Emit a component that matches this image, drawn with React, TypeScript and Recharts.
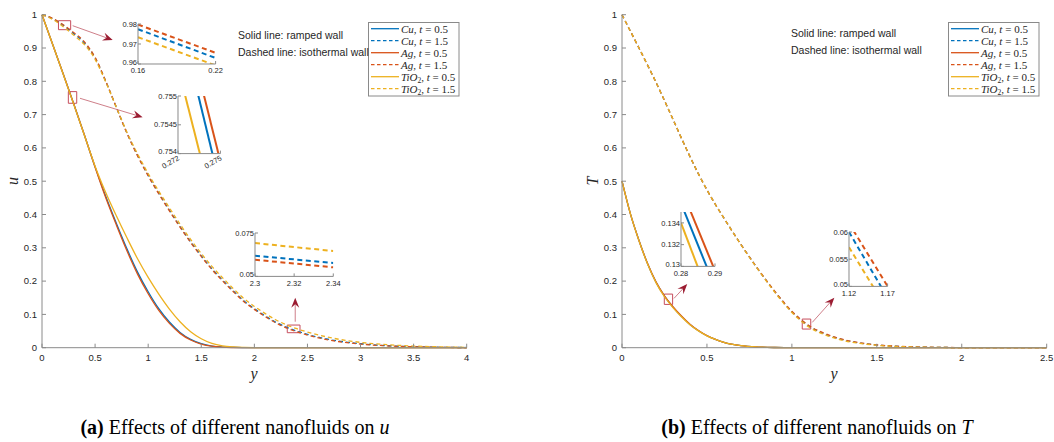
import React from "react";
import { LineChart, Line, XAxis, YAxis, CartesianGrid, ReferenceArea, ReferenceLine } from "recharts";

const CU = "#0072BD";
const AG = "#D95319";
const TIO2 = "#EDB120";
const AXIS_GRAY = "#8a8a8a";
const TEXT = "#262626";
const SANS = "'Liberation Sans', Arial, Helvetica, sans-serif";
const SERIF = "'Liberation Serif', 'Times New Roman', serif";
const BOX_RED = "#c64d5c";

// ---- velocity u(y): t = 0.5 ramped wall (solid), t = 1.5 isothermal wall (dashed)
const uY = [0, 0.1, 0.2, 0.3, 0.4, 0.5, 0.6, 0.7, 0.8, 0.9, 1.0, 1.1, 1.2, 1.3, 1.4, 1.5, 1.6, 1.7, 1.8, 1.9, 2.0, 2.1, 2.2, 2.3, 2.4, 2.5, 2.75, 3.0, 3.25, 3.5, 3.75, 4.0];
const uCuRamped = [1, 0.911, 0.822, 0.731, 0.638, 0.543, 0.455, 0.374, 0.297, 0.227, 0.168, 0.117, 0.077, 0.046, 0.025, 0.012, 0.005, 0.002, 0.0007, 0.0002, 0, 0, 0, 0, 0, 0, 0, 0, 0, 0, 0, 0];
const uAgRamped = [1, 0.911, 0.822, 0.731, 0.638, 0.542, 0.451, 0.369, 0.291, 0.221, 0.162, 0.112, 0.073, 0.043, 0.023, 0.011, 0.0045, 0.0017, 0.0006, 0.0002, 0, 0, 0, 0, 0, 0, 0, 0, 0, 0, 0, 0];
const uTiO2Ramped = [1, 0.911, 0.821, 0.73, 0.637, 0.545, 0.466, 0.396, 0.33, 0.267, 0.211, 0.161, 0.116, 0.078, 0.048, 0.027, 0.013, 0.0055, 0.0022, 0.0008, 0.0002, 0, 0, 0, 0, 0, 0, 0, 0, 0, 0, 0];
const uCuIso = [1, 0.988, 0.968, 0.943, 0.915, 0.87, 0.8, 0.722, 0.645, 0.578, 0.518, 0.464, 0.413, 0.364, 0.318, 0.276, 0.237, 0.203, 0.171, 0.141, 0.117, 0.096, 0.077, 0.062, 0.05, 0.04, 0.022, 0.012, 0.006, 0.003, 0.0012, 0.0005];
const uAgIso = [1, 0.989, 0.97, 0.946, 0.918, 0.872, 0.801, 0.722, 0.644, 0.576, 0.516, 0.462, 0.411, 0.362, 0.316, 0.274, 0.235, 0.201, 0.169, 0.139, 0.115, 0.094, 0.075, 0.0597, 0.048, 0.038, 0.0205, 0.011, 0.0055, 0.0027, 0.0011, 0.0004];
const uTiO2Iso = [1, 0.986, 0.964, 0.938, 0.91, 0.866, 0.798, 0.722, 0.647, 0.582, 0.523, 0.47, 0.42, 0.371, 0.325, 0.283, 0.244, 0.21, 0.178, 0.148, 0.124, 0.103, 0.084, 0.069, 0.057, 0.047, 0.028, 0.016, 0.009, 0.005, 0.0025, 0.001];
const uXTicks = [0, 0.5, 1, 1.5, 2, 2.5, 3, 3.5, 4];

// ---- temperature T(y)
const tY = [0, 0.05, 0.1, 0.15, 0.2, 0.25, 0.3, 0.35, 0.4, 0.45, 0.5, 0.55, 0.6, 0.7, 0.8, 0.9, 1.0, 1.1, 1.2, 1.3, 1.4, 1.5, 1.6, 1.7, 1.8, 1.9, 2.0, 2.25, 2.5];
const tCuRamped = [0.5, 0.401, 0.322, 0.253, 0.197, 0.155, 0.122, 0.094, 0.07, 0.051, 0.036, 0.025, 0.016, 0.006, 0.002, 0.0006, 0.0002, 0, 0, 0, 0, 0, 0, 0, 0, 0, 0, 0, 0];
const tAgRamped = [0.5, 0.401, 0.322, 0.2535, 0.198, 0.156, 0.123, 0.095, 0.0705, 0.0515, 0.0363, 0.0252, 0.0162, 0.0061, 0.002, 0.0006, 0.0002, 0, 0, 0, 0, 0, 0, 0, 0, 0, 0, 0, 0];
const tTiO2Ramped = [0.5, 0.401, 0.321, 0.252, 0.1955, 0.153, 0.1205, 0.093, 0.069, 0.0505, 0.0357, 0.0248, 0.0159, 0.006, 0.002, 0.0006, 0.0002, 0, 0, 0, 0, 0, 0, 0, 0, 0, 0, 0, 0];
const tCuIso = [1, 0.95, 0.9, 0.849, 0.797, 0.742, 0.686, 0.629, 0.574, 0.522, 0.474, 0.43, 0.389, 0.31, 0.236, 0.168, 0.108, 0.065, 0.04, 0.024, 0.014, 0.008, 0.0045, 0.0025, 0.0013, 0.0007, 0.0003, 0.0001, 0];
const tAgIso = [1, 0.95, 0.9, 0.849, 0.797, 0.742, 0.686, 0.629, 0.574, 0.522, 0.474, 0.43, 0.389, 0.31, 0.2365, 0.169, 0.1095, 0.0667, 0.0415, 0.025, 0.0147, 0.0085, 0.0048, 0.0027, 0.0014, 0.0008, 0.0003, 0.0001, 0];
const tTiO2Iso = [1, 0.95, 0.9, 0.849, 0.797, 0.742, 0.686, 0.629, 0.574, 0.522, 0.474, 0.43, 0.389, 0.3095, 0.235, 0.166, 0.1055, 0.0622, 0.0375, 0.022, 0.0128, 0.0073, 0.0041, 0.0023, 0.0012, 0.0006, 0.0003, 0.0001, 0];
const tXTicks = [0, 0.5, 1, 1.5, 2, 2.5];

const yTicks = [0, 0.1, 0.2, 0.3, 0.4, 0.5, 0.6, 0.7, 0.8, 0.9, 1];

// ---- zoomed windows (two-point segments)
const zoomUIsoX = [0.16, 0.22];
const zoomUIsoCu = [0.9774, 0.963];
const zoomUIsoAg = [0.9797, 0.9656];
const zoomUIsoTi = [0.9734, 0.9593];

const zoomURampX = [0.272, 0.275];
const zoomURampCu = [0.75646, 0.75343];
const zoomURampAg = [0.75683, 0.75386];
const zoomURampTi = [0.7555, 0.75259];

const zoomUTailX = [2.3, 2.34];
const zoomUTailCu = [0.0619, 0.0577];
const zoomUTailAg = [0.0596, 0.0552];
const zoomUTailTi = [0.0692, 0.0646];

const zoomTRampX = [0.28, 0.29];
const zoomTRampCu = [0.1358, 0.1281];
const zoomTRampAg = [0.1372, 0.1296];
const zoomTRampTi = [0.134, 0.1258];

const zoomTIsoX = [1.12, 1.17];
const zoomTIsoCu = [0.06, 0.0479];
const zoomTIsoAg = [0.0616, 0.05];
const zoomTIsoTi = [0.0572, 0.0456];

// markers on the main axes that point at the zoomed windows
const uBoxes = [
  { x1: 0.155, x2: 0.27, y1: 0.955, y2: 0.982 },
  { x1: 0.248, x2: 0.327, y1: 0.734, y2: 0.769 },
  { x1: 2.31, x2: 2.43, y1: 0.045, y2: 0.068 },
];
const uArrows = [
  [{ x: 0.289, y: 0.967 }, { x: 0.666, y: 0.924 }],
  [{ x: 0.358, y: 0.749 }, { x: 0.948, y: 0.692 }],
  [{ x: 2.385, y: 0.078 }, { x: 2.385, y: 0.15 }],
];
const tBoxes = [
  { x1: 0.249, x2: 0.298, y1: 0.13, y2: 0.161 },
  { x1: 1.061, x2: 1.111, y1: 0.056, y2: 0.086 },
];
const tArrows = [
  [{ x: 0.306, y: 0.148 }, { x: 0.384, y: 0.191 }],
  [{ x: 1.12, y: 0.076 }, { x: 1.25, y: 0.15 }],
];

const series = [
  { key: "cuR", fluid: "Cu", t: "0.5", color: CU, dashed: false },
  { key: "cuI", fluid: "Cu", t: "1.5", color: CU, dashed: true },
  { key: "agR", fluid: "Ag", t: "0.5", color: AG, dashed: false },
  { key: "agI", fluid: "Ag", t: "1.5", color: AG, dashed: true },
  { key: "tiR", fluid: "TiO2", t: "0.5", color: TIO2, dashed: false },
  { key: "tiI", fluid: "TiO2", t: "1.5", color: TIO2, dashed: true },
];

const uRows = uY.map((y, i) => ({
  y, cuR: uCuRamped[i], cuI: uCuIso[i], agR: uAgRamped[i], agI: uAgIso[i], tiR: uTiO2Ramped[i], tiI: uTiO2Iso[i],
}));
const tRows = tY.map((y, i) => ({
  y, cuR: tCuRamped[i], cuI: tCuIso[i], agR: tAgRamped[i], agI: tAgIso[i], tiR: tTiO2Ramped[i], tiI: tTiO2Iso[i],
}));

const hiddenTick = () => <g />;

const ArrowShape = (props: any) => {
  const { x1, y1, x2, y2 } = props;
  const a = Math.atan2(y2 - y1, x2 - x1);
  const c = Math.cos(a);
  const s = Math.sin(a);
  const len = 10, half = 4, notch = 6.5;
  const bx = x2 - len * c, by = y2 - len * s;
  const nx = x2 - notch * c, ny = y2 - notch * s;
  const pts = `${x2},${y2} ${bx - half * s},${by + half * c} ${nx},${ny} ${bx + half * s},${by - half * c}`;
  return (
    <g>
      <line x1={x1} y1={y1} x2={nx} y2={ny} stroke="#c8707c" strokeWidth={0.9} />
      <polygon points={pts} fill="#9b1c31" />
    </g>
  );
};

const SlantTick = (props: any) => {
  const { x, y, payload } = props;
  const ax = x + 2, ay = y + 2;
  return (
    <text x={ax} y={ay} transform={`rotate(-30 ${ax} ${ay})`} textAnchor="end" fontSize={7.5} fontFamily={SANS} fill={TEXT}>
      {payload.value}
    </text>
  );
};

// inset y labels; the lowest one sits a little higher so it clears the x label below it
const InsetYTick = (props: any) => {
  const { x, y, payload, index } = props;
  return (
    <text x={x} y={y - (index === 0 ? 2 : 0)} dy="0.35em" textAnchor="end" fontSize={7.5} fontFamily={SANS} fill={TEXT}>
      {payload.value}
    </text>
  );
};

function FluidLabel({ fluid, t }: { fluid: string; t: string }) {
  const base = fluid === "TiO2" ? "TiO" : fluid;
  return (
    <>
      <tspan fontStyle="italic">{base}</tspan>
      {fluid === "TiO2" && <tspan fontSize={7.5} dy={2.5}>2</tspan>}
      <tspan dy={fluid === "TiO2" ? -2.5 : 0}>, </tspan>
      <tspan fontStyle="italic">t</tspan>
      <tspan> = {t}</tspan>
    </>
  );
}

function SeriesKey({ left, top }: { left: number; top: number }) {
  return (
    <svg width={92} height={76} style={{ position: "absolute", left, top }}>
      <rect x={0.5} y={0.5} width={90.5} height={73.5} fill="#fff" stroke={AXIS_GRAY} />
      {series.map((s, i) => {
        const cy = 6.7 + i * 12;
        return (
          <g key={s.key}>
            <line x1={3} x2={31} y1={cy} y2={cy} stroke={s.color} strokeWidth={1.3} strokeDasharray={s.dashed ? "3.5 2.5" : undefined} />
            <text x={33} y={cy + 3.8} fontFamily={SERIF} fontSize={11} fill={TEXT}>
              <FluidLabel fluid={s.fluid} t={s.t} />
            </text>
          </g>
        );
      })}
    </svg>
  );
}

type InsetProps = {
  left: number; top: number; w: number; h: number;
  xs: number[]; cu: number[]; ag: number[]; ti: number[];
  xDomain: [number, number]; yDomain: [number, number];
  xTicks: number[]; yTicks: number[];
  dashed?: boolean; slantX?: boolean;
};

function Inset(p: InsetProps) {
  const padL = 34, padT = 6, padR = 16, padB = 26;
  const rows = p.xs.map((x, i) => ({ x, cu: p.cu[i], ag: p.ag[i], ti: p.ti[i] }));
  const dash = p.dashed ? "5 3.5" : undefined;
  const tickStyle = { fontSize: 7.5, fill: TEXT, fontFamily: SANS };
  return (
    <div style={{ position: "absolute", left: p.left - padL, top: p.top - padT }}>
      <LineChart width={p.w + padL + padR} height={p.h + padT + padB} data={rows} margin={{ top: padT, right: padR, bottom: 0, left: 0 }}>
        <CartesianGrid fill="#fff" horizontal={false} vertical={false} />
        <XAxis dataKey="x" type="number" domain={p.xDomain} ticks={p.xTicks} allowDataOverflow interval={0} height={padB}
          tickSize={-3} tickMargin={7} axisLine={{ stroke: AXIS_GRAY }} tickLine={{ stroke: AXIS_GRAY }}
          tick={p.slantX ? SlantTick : tickStyle} />
        <XAxis xAxisId="top" orientation="top" type="number" domain={p.xDomain} height={0} tick={hiddenTick} tickLine={false} axisLine={{ stroke: AXIS_GRAY }} />
        <YAxis type="number" domain={p.yDomain} ticks={p.yTicks} allowDataOverflow interval={0} width={padL}
          tickSize={-3} tickMargin={4} axisLine={{ stroke: AXIS_GRAY }} tickLine={{ stroke: AXIS_GRAY }} tick={InsetYTick} />
        <YAxis yAxisId="right" orientation="right" type="number" domain={p.yDomain} width={0} tick={hiddenTick} tickLine={false} axisLine={{ stroke: AXIS_GRAY }} />
        <Line dataKey="cu" stroke={CU} strokeWidth={2} strokeDasharray={dash} dot={false} isAnimationActive={false} />
        <Line dataKey="ag" stroke={AG} strokeWidth={2} strokeDasharray={dash} dot={false} isAnimationActive={false} />
        <Line dataKey="ti" stroke={TIO2} strokeWidth={2} strokeDasharray={dash} dot={false} isAnimationActive={false} />
      </LineChart>
    </div>
  );
}

type PanelProps = {
  left: number; width: number; rows: any[]; xMax: number; xTicks: number[];
  boxes: { x1: number; x2: number; y1: number; y2: number }[];
  arrows: { x: number; y: number }[][];
};

function ProfilePanel({ left, width, rows, xMax, xTicks, boxes, arrows }: PanelProps) {
  const tickStyle = { fontSize: 9.5, fill: TEXT, fontFamily: SANS };
  return (
    <div style={{ position: "absolute", left, top: 0 }}>
      <LineChart width={width} height={400} data={rows} margin={{ top: 14.7, right: width - 466.7, bottom: 22.3, left: 0 }}>
        <XAxis dataKey="y" type="number" domain={[0, xMax]} ticks={xTicks} interval={0} height={30}
          tickSize={-4} tickMargin={10.5} axisLine={{ stroke: AXIS_GRAY }} tickLine={{ stroke: AXIS_GRAY }} tick={tickStyle} />
        <XAxis xAxisId="top" orientation="top" type="number" domain={[0, xMax]} ticks={xTicks} interval={0} height={0}
          tickSize={-4} tick={hiddenTick} axisLine={{ stroke: AXIS_GRAY }} tickLine={{ stroke: AXIS_GRAY }} />
        <YAxis type="number" domain={[0, 1]} ticks={yTicks} interval={0} width={42}
          tickSize={-4} tickMargin={9} axisLine={{ stroke: AXIS_GRAY }} tickLine={{ stroke: AXIS_GRAY }} tick={tickStyle} />
        <YAxis yAxisId="right" orientation="right" type="number" domain={[0, 1]} ticks={yTicks} interval={0} width={0}
          tickSize={-4} tick={hiddenTick} axisLine={{ stroke: AXIS_GRAY }} tickLine={{ stroke: AXIS_GRAY }} />
        {series.map((s) => (
          <Line key={s.key} type="monotone" dataKey={s.key} stroke={s.color} strokeWidth={1.3}
            strokeDasharray={s.dashed ? "4 3" : undefined} dot={false} isAnimationActive={false} />
        ))}
        {boxes.map((b, i) => (
          <ReferenceArea key={`b${i}`} x1={b.x1} x2={b.x2} y1={b.y1} y2={b.y2} fill="none" stroke={BOX_RED} strokeWidth={1} ifOverflow="visible" />
        ))}
        {arrows.map((seg, i) => (
          <ReferenceLine key={`a${i}`} segment={seg} shape={ArrowShape} ifOverflow="visible" />
        ))}
      </LineChart>
    </div>
  );
}

const note = (left: number, top: number, text: string) => (
  <div style={{ position: "absolute", left, top, fontFamily: SANS, fontSize: 10.5, lineHeight: "11px", color: TEXT, whiteSpace: "nowrap" }}>
    {text}
  </div>
);

const axisName = (x: number, y: number, text: string, rotate = false) => (
  <div style={{
    position: "absolute", left: x - 10, top: y - 10, width: 20, height: 20, lineHeight: "20px", textAlign: "center",
    fontFamily: SERIF, fontStyle: "italic", fontSize: 16, color: TEXT, transform: rotate ? "rotate(-90deg)" : undefined,
  }}>
    {text}
  </div>
);

const caption = (center: number, tag: string, rest: string, sym: string) => (
  <div style={{
    position: "absolute", left: center - 200, top: 416, width: 400, textAlign: "center",
    fontFamily: SERIF, fontSize: 20, lineHeight: "22px", color: "#000", whiteSpace: "nowrap",
  }}>
    <b>({tag})</b> {rest} <i>{sym}</i>
  </div>
);

export default function App() {
  return (
    <div style={{ position: "absolute", left: 0, top: 0, width: 1054, height: 442, background: "#fff", overflow: "hidden" }}>
      <ProfilePanel left={0} width={480} rows={uRows} xMax={4} xTicks={uXTicks} boxes={uBoxes} arrows={uArrows} />
      <ProfilePanel left={580} width={474} rows={tRows} xMax={2.5} xTicks={tXTicks} boxes={tBoxes} arrows={tArrows} />

      <Inset left={137.7} top={24.3} w={77.6} h={40} xs={zoomUIsoX} cu={zoomUIsoCu} ag={zoomUIsoAg} ti={zoomUIsoTi}
        xDomain={[0.16, 0.22]} yDomain={[0.96, 0.98]} xTicks={[0.16, 0.22]} yTicks={[0.96, 0.97, 0.98]} dashed />
      <Inset left={178.3} top={95.7} w={42.4} h={57.6} xs={zoomURampX} cu={zoomURampCu} ag={zoomURampAg} ti={zoomURampTi}
        xDomain={[0.272, 0.275]} yDomain={[0.754, 0.755]} xTicks={[0.272, 0.275]} yTicks={[0.754, 0.7545, 0.755]} slantX />
      <Inset left={255} top={233.3} w={78.3} h={43.4} xs={zoomUTailX} cu={zoomUTailCu} ag={zoomUTailAg} ti={zoomUTailTi}
        xDomain={[2.3, 2.34]} yDomain={[0.05, 0.075]} xTicks={[2.3, 2.32, 2.34]} yTicks={[0.05, 0.075]} dashed />
      <Inset left={681.3} top={212.3} w={34} h={54.4} xs={zoomTRampX} cu={zoomTRampCu} ag={zoomTRampAg} ti={zoomTRampTi}
        xDomain={[0.28, 0.29]} yDomain={[0.13, 0.135]} xTicks={[0.28, 0.29]} yTicks={[0.13, 0.132, 0.134]} />
      <Inset left={848.7} top={232.3} w={38.6} h={54.4} xs={zoomTIsoX} cu={zoomTIsoCu} ag={zoomTIsoAg} ti={zoomTIsoTi}
        xDomain={[1.12, 1.17]} yDomain={[0.05, 0.06]} xTicks={[1.12, 1.17]} yTicks={[0.05, 0.055, 0.06]} dashed />

      <SeriesKey left={368} top={22} />
      <SeriesKey left={948} top={22} />

      {note(238, 29.5, "Solid line: ramped wall")}
      {note(238, 46.5, "Dashed line: isothermal wall")}
      {note(791, 28, "Solid line: ramped wall")}
      {note(791, 45, "Dashed line: isothermal wall")}

      {axisName(13, 181, "u", true)}
      {axisName(593, 181, "T", true)}
      {axisName(254, 374, "y")}
      {axisName(834, 374, "y")}

      {caption(235, "a", "Effects of different nanofluids on", "u")}
      {caption(817, "b", "Effects of different nanofluids on", "T")}
    </div>
  );
}
